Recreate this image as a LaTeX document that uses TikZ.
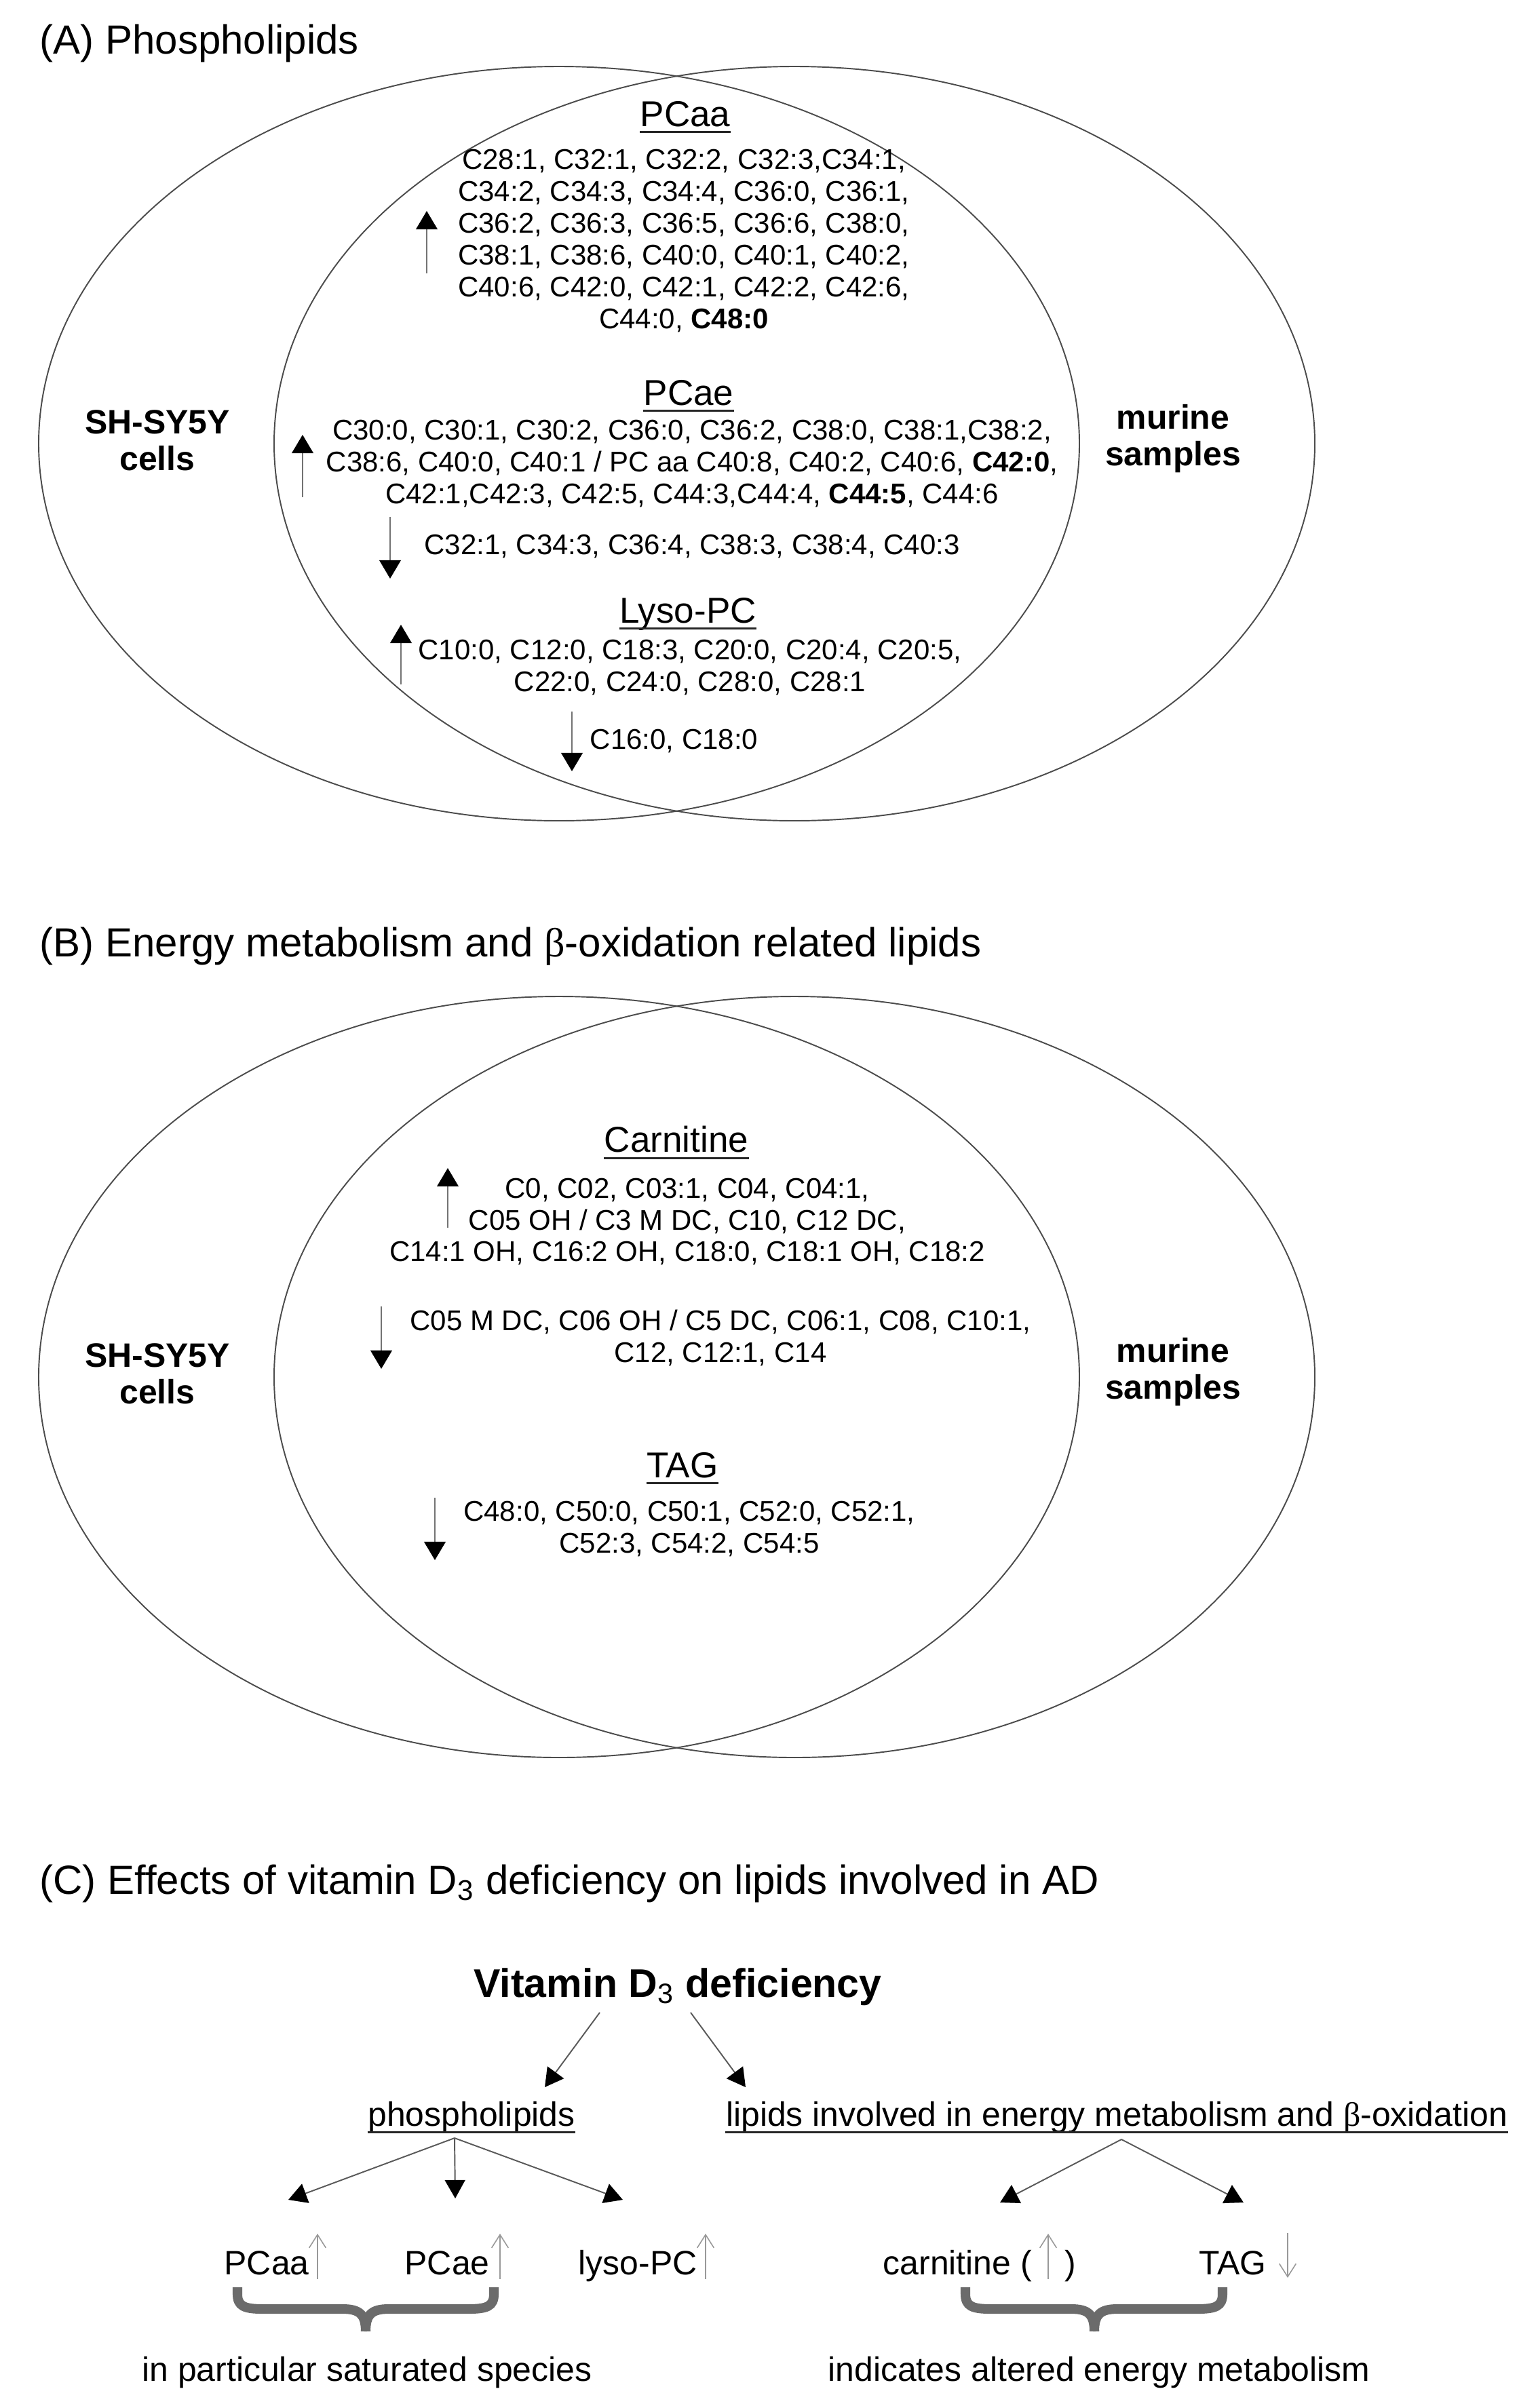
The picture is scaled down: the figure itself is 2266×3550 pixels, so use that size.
\documentclass[tikz,border=0pt]{standalone}
\usepackage{fontspec}
\setmainfont{Liberation Sans}
\newfontfamily\symfont{Liberation Serif}
\usetikzlibrary{arrows.meta}
\definecolor{bracegray}{HTML}{6B6B6B}
\newcommand{\ulnode}[1]{\draw[uline] ([yshift=-2.4pt]#1.base west) -- ([yshift=-2.4pt]#1.base east);}
\begin{document}
\begin{tikzpicture}[x=0.1mm,y=-0.1mm,
  venn/.style={draw=black!70, line width=0.55pt},
  ttl/.style={anchor=west, inner sep=0pt, font=\fontsize{17.07}{20}\selectfont},
  lst/.style={align=center, inner sep=0pt, font=\fontsize{11.95}{13.37}\selectfont},
  sect/.style={inner sep=0pt, font=\fontsize{15.1}{18}\selectfont},
  side/.style={align=center, inner sep=0pt, font=\fontsize{14.2}{15.4}\selectfont\bfseries},
  lab/.style={inner sep=0pt, font=\fontsize{14.2}{17}\selectfont},
  uline/.style={line width=0.8pt, black!85},
  vupA/.style={draw=black!55, line width=0.55pt, -{Triangle[length=7.7pt,width=9pt,color=black]}},
  carrow/.style={draw=black!65, line width=0.55pt, -{Triangle[length=7.7pt,width=8.5pt,color=black]}},
  garrow/.style={draw=black!40, line width=0.45pt, -{Straight Barb[length=5.5pt,width=7pt]}},
  brace/.style={draw=bracegray, line width=4pt, line cap=butt}
]
\useasboundingbox (0,0) rectangle (2266,3550);

%% ---------------- (A) ----------------
\node[ttl] (tA) at (58,64) {(A) Phospholipids};
\draw[venn] (824,654) ellipse [x radius=767, y radius=556];
\draw[venn] (1171,654) ellipse [x radius=767, y radius=556];
\node[side] (shA) at (232,649) {SH-SY5Y\\cells};
\node[side] (muA) at (1729,647) {murine\\samples};

\node[sect] (pcaa) at (1010,168) {PCaa};
\ulnode{pcaa}
\node[lst] (pcaaU) at (1008,355) {C28:1, C32:1, C32:2, C32:3,C34:1,\\C34:2, C34:3, C34:4, C36:0, C36:1,\\C36:2, C36:3, C36:5, C36:6, C38:0,\\C38:1, C38:6, C40:0, C40:1, C40:2,\\C40:6, C42:0, C42:1, C42:2, C42:6,\\C44:0, \textbf{C48:0}};
\coordinate (a1s) at (629,403); \coordinate (a1e) at (629,311);
\draw[vupA] (a1s) -- (a1e);

\node[sect] (pcae) at (1015,579) {PCae};
\ulnode{pcae}
\node[lst] (pcaeU) at (1020,684) {C30:0, C30:1, C30:2, C36:0, C36:2, C38:0, C38:1,C38:2,\\C38:6, C40:0, C40:1 / PC aa C40:8, C40:2, C40:6, \textbf{C42:0},\\C42:1,C42:3, C42:5, C44:3,C44:4, \textbf{C44:5}, C44:6};
\coordinate (a2s) at (446,733); \coordinate (a2e) at (446,641);
\draw[vupA] (a2s) -- (a2e);
\node[lst] (pcaeD) at (1020,806) {C32:1, C34:3, C36:4, C38:3, C38:4, C40:3};
\coordinate (a3s) at (575,762); \coordinate (a3e) at (575,853);
\draw[vupA] (a3s) -- (a3e);

\node[sect] (lyso) at (1014,905) {Lyso-PC};
\ulnode{lyso}
\node[lst] (lysoU) at (1017,984) {C10:0, C12:0, C18:3, C20:0, C20:4, C20:5,\\C22:0, C24:0, C28:0, C28:1};
\coordinate (a4s) at (591,1009); \coordinate (a4e) at (591,921);
\draw[vupA] (a4s) -- (a4e);
\node[lst, anchor=west] (lysoD) at (869,1093) {C16:0, C18:0};
\coordinate (a5s) at (843,1049); \coordinate (a5e) at (843,1137);
\draw[vupA] (a5s) -- (a5e);

%% ---------------- (B) ----------------
\node[ttl] (tB) at (58,1395) {(B) Energy metabolism and {\symfont β}-oxidation related lipids};
\draw[venn] (824,2030) ellipse [x radius=767, y radius=561];
\draw[venn] (1171,2030) ellipse [x radius=767, y radius=561];
\node[side] (shB) at (232,2025) {SH-SY5Y\\cells};
\node[side] (muB) at (1729,2023) {murine\\samples};

\node[sect] (carn) at (997,1680) {Carnitine};
\ulnode{carn}
\node[lst] (carnU) at (1013,1801) {C0, C02, C03:1, C04, C04:1,\\C05 OH / C3 M DC, C10, C12 DC,\\C14:1 OH, C16:2 OH, C18:0, C18:1 OH, C18:2};
\coordinate (b1s) at (660,1810); \coordinate (b1e) at (660,1722);
\draw[vupA] (b1s) -- (b1e);
\node[lst] (carnD) at (1062,1972) {C05 M DC, C06 OH / C5 DC, C06:1, C08, C10:1,\\C12, C12:1, C14};
\coordinate (b2s) at (562,1926); \coordinate (b2e) at (562,2018);
\draw[vupA] (b2s) -- (b2e);

\node[sect] (tag) at (1006,2160) {TAG};
\ulnode{tag}
\node[lst] (tagD) at (1016,2254) {C48:0, C50:0, C50:1, C52:0, C52:1,\\C52:3, C54:2, C54:5};
\coordinate (b3s) at (641,2208); \coordinate (b3e) at (641,2300);
\draw[vupA] (b3s) -- (b3e);

%% ---------------- (C) ----------------
\node[ttl] (tC) at (58,2777) {(C) Effects of vitamin D\textsubscript{3} deficiency on lipids involved in AD};
\node[inner sep=0pt, font=\fontsize{16.8}{20}\selectfont] (vit) at (999,2929) {\textbf{Vitamin D}\textsubscript{3}\textbf{ deficiency}};

\node[lab] (phos) at (695,3122) {phospholipids};
\ulnode{phos}
\node[lab] (lip) at (1646,3122) {lipids involved in energy metabolism and {\symfont β}-oxidation};
\ulnode{lip}

\coordinate (v1) at (884,2967); \coordinate (v2) at (1018,2967);
\coordinate (phT) at (803,3077); \coordinate (liT) at (1099,3077);
\draw[carrow] (v1) -- (phT);
\draw[carrow] (v2) -- (liT);

\coordinate (ph0) at (670,3152);
\coordinate (ph1) at (425,3243); \coordinate (ph2) at (671,3241); \coordinate (ph3) at (918,3243);
\draw[carrow] (ph0) -- (ph1);
\draw[carrow] (ph0) -- (ph2);
\draw[carrow] (ph0) -- (ph3);
\coordinate (li0) at (1653,3154);
\coordinate (li1) at (1474,3247); \coordinate (li2) at (1833,3247);
\draw[carrow] (li0) -- (li1);
\draw[carrow] (li0) -- (li2);

\node[lab, anchor=base west] (cPCaa) at (330,3353) {PCaa};
\node[lab, anchor=base west] (cPCae) at (596,3353) {PCae};
\node[lab, anchor=base west] (cLyso) at (852,3353) {lyso-PC};
\node[lab, anchor=base west] (cCarn) at (1301,3353) {carnitine (};
\node[lab, anchor=base west] (cCarnP) at (1569,3353) {)};
\node[lab, anchor=base west] (cTag) at (1767,3353) {TAG};

\coordinate (g1s) at (468,3360); \coordinate (g1e) at (468,3293);
\coordinate (g2s) at (737,3360); \coordinate (g2e) at (737,3293);
\coordinate (g3s) at (1040,3360); \coordinate (g3e) at (1040,3293);
\coordinate (g4s) at (1545,3360); \coordinate (g4e) at (1545,3293);
\coordinate (g5s) at (1898,3292); \coordinate (g5e) at (1898,3358);
\draw[garrow] (g1s) -- (g1e);
\draw[garrow] (g2s) -- (g2e);
\draw[garrow] (g3s) -- (g3e);
\draw[garrow] (g4s) -- (g4e);
\draw[garrow] (g5s) -- (g5e);

% braces
\draw[brace] (350,3372) -- (350,3382) .. controls (350,3400) and (360,3404) .. (388,3404) -- (505,3404) .. controls (530,3404) and (539,3412) .. (539,3437);
\draw[brace] (728,3372) -- (728,3382) .. controls (728,3400) and (718,3404) .. (690,3404) -- (573,3404) .. controls (548,3404) and (539,3412) .. (539,3437);
\draw[brace] (1423,3372) -- (1423,3382) .. controls (1423,3400) and (1433,3404) .. (1461,3404) -- (1579,3404) .. controls (1604,3404) and (1613,3412) .. (1613,3437);
\draw[brace] (1802,3372) -- (1802,3382) .. controls (1802,3400) and (1792,3404) .. (1764,3404) -- (1647,3404) .. controls (1622,3404) and (1613,3412) .. (1613,3437);

\node[lab] (bt1) at (541,3498) {in particular saturated species};
\node[lab] (bt2) at (1620,3498) {indicates altered energy metabolism};
\end{tikzpicture}
\end{document}
